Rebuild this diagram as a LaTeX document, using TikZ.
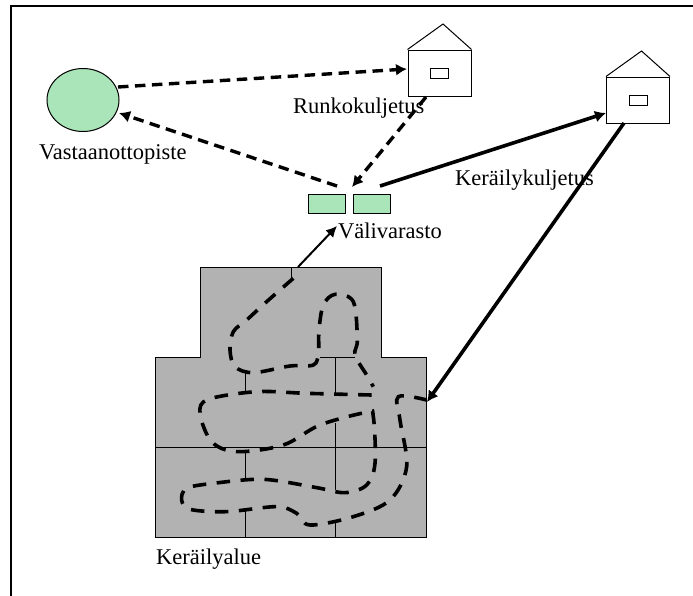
\documentclass[tikz,border=0pt]{standalone}
\usepackage{fontspec}
\setmainfont{Liberation Serif}
\usetikzlibrary{arrows.meta,shapes.geometric}
\definecolor{mint}{RGB}{170,229,185}
\definecolor{area}{RGB}{178,178,178}
\tikzset{
  lbl/.style={inner sep=0pt,anchor=base west,font=\fontsize{22.5}{24}\selectfont},
  mintbox/.style={draw,line width=1pt,fill=mint,inner sep=0pt,minimum width=37pt,minimum height=19pt},
  wall/.style={draw,line width=1pt,fill=white,inner sep=0pt,minimum width=63pt,minimum height=46pt},
  win/.style={draw,line width=.8pt,fill=white,inner sep=0pt,minimum width=18pt,minimum height=10pt},
  dashline/.style={line width=3.4pt,dash pattern=on 10.5pt off 6.5pt,-{Latex[length=11pt,width=12pt]}},
  solidline/.style={line width=3.6pt,-{Latex[length=11pt,width=12pt]}},
  thinarrow/.style={line width=2pt,-{Latex[length=11pt,width=11pt]}},
  tour/.style={line width=3.6pt,dash pattern=on 13.5pt off 10.5pt},
  grid/.style={line width=.7pt}
}
\begin{document}
\begin{tikzpicture}[x=1pt,y=-1pt]
\useasboundingbox (0,0) rectangle (693,595);
\fill[white] (0,0) rectangle (693,595);
\draw[line width=1.5pt] (11,600) -- (11,6) -- (693,6);
% area
\draw[line width=1pt,fill=area] (200,267) -- (381,267) -- (381,357) -- (426,357) -- (426,537) -- (155,537) -- (155,357) -- (200,357) -- cycle;
\draw[grid] (155,447) -- (426,447);
\draw[grid] (291,267) -- (291,278);
\draw[grid] (245,372) -- (245,394) (335,357) -- (335,394) (320,357) -- (355,357);
\draw[grid] (335,423) -- (335,490) (245,450) -- (245,480) (245,510) -- (245,537) (335,522) -- (335,537);
% receiving point
\node[draw,line width=1pt,fill=mint,ellipse,inner sep=0pt,minimum width=72pt,minimum height=63pt] (recv) at (83,100) {};
% houses
\node[wall] (h1) at (439.5,73) {};
\draw[line width=1pt] (h1.north west) -- (443,24) -- (h1.north east);
\node[win] at (h1.center) {};
\node[wall] (h2) at (638,100) {};
\draw[line width=1pt] (h2.north west) -- (641.5,51) -- (h2.north east);
\node[win] at (h2.center) {};
% depot
\node[mintbox] (d1) at (326.5,203.5) {};
\node[mintbox] (d2) at (371.5,203.5) {};
% named ends
\coordinate (a1) at (118,87);
\coordinate (a2) at (407,69);
\coordinate (b1) at (337,186);
\coordinate (b2) at (119,113);
\coordinate (c1) at (426,97);
\coordinate (c2) at (352,187);
\coordinate (e1) at (380,186);
\coordinate (e2) at (606,113);
\coordinate (f1) at (624,123);
\coordinate (f2) at (427,402);
\coordinate (g1) at (298,267);
\coordinate (g2) at (337,226);
\draw[dashline] (a1) -- (a2);
\draw[dashline] (b1) -- (b2);
\draw[dashline] (c1) -- (c2);
\draw[solidline] (e1) -- (e2);
\draw[solidline] (f1) -- (f2);
\draw[thinarrow] (g1) -- (g2);
% tours
\begin{scope}[shift={(140,250)},x=1pt/3,y=-1pt/3]
\draw[tour] plot[smooth,tension=.55] coordinates {(460,85) (380,155) (320,210) (280,245) (270,300) (285,350) (340,368) (450,348) (520,345) (535,310) (537,240) (550,165) (585,133) (640,155) (652,270) (645,315) (680,375) (700,410)};
\draw[tour] plot[smooth,tension=.55] coordinates {(695,435) (500,430) (350,425) (205,448) (180,490) (215,575) (290,605) (430,585) (540,525) (680,487) (700,500) (705,640) (680,705) (615,728) (525,712) (370,688) (220,700) (140,715) (125,750) (150,778) (260,785) (410,770) (470,790) (510,825) (640,800) (750,750) (800,650) (780,510) (775,440) (860,450)};
\end{scope}
% labels
\node[lbl] (t1) at (39,159) {Vastaanottopiste};
\node[lbl] (t2) at (293,113) {Runkokuljetus};
\node[lbl] (t3) at (455,185) {Keräilykuljetus};
\node[lbl] (t4) at (338,238) {Välivarasto};
\node[lbl] (t5) at (156,564) {Keräilyalue};
\end{tikzpicture}
\end{document}
